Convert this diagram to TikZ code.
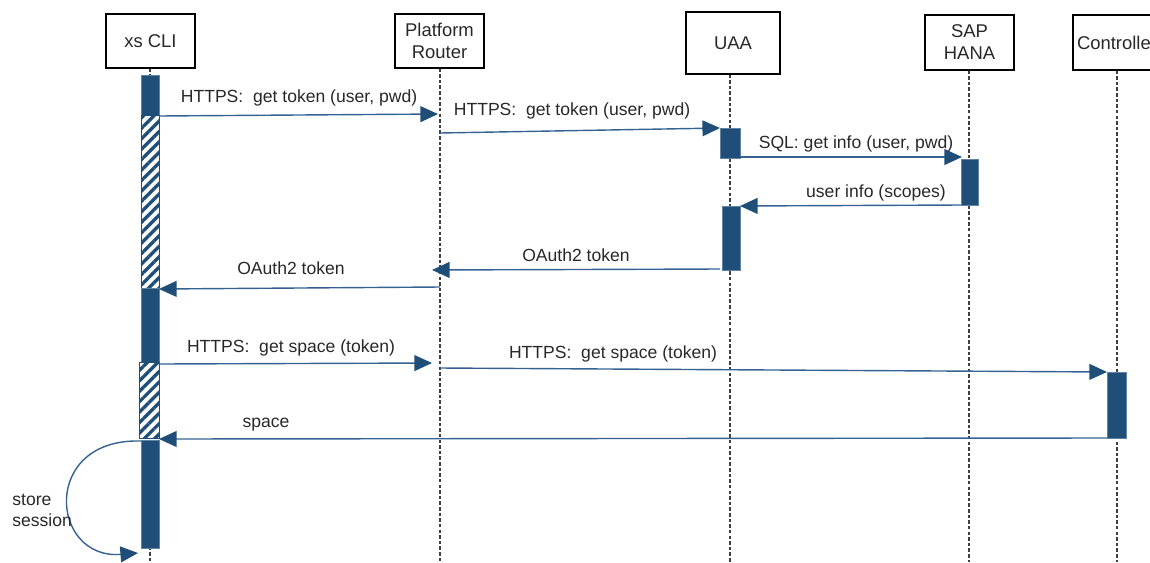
\documentclass[tikz,border=0pt]{standalone}
\usepackage{fontspec}
\setmainfont{Liberation Sans}
\usetikzlibrary{arrows.meta,patterns.meta}
\definecolor{barblue}{RGB}{31,78,121}
\definecolor{lineblue}{RGB}{52,98,146}
\definecolor{txt}{RGB}{40,40,40}
\tikzset{
  head/.style={draw=black,line width=0.6pt,fill=white,inner sep=0pt,align=center,font=\fontsize{10.5}{12.5}\selectfont,text=txt},
  lifeline/.style={draw=black!75,line width=0.6pt,dash pattern=on 2pt off 1.2pt},
  actbar/.style={fill=barblue,draw=barblue!70,line width=0.4pt},
  hatchbar/.style={draw=barblue,line width=0.5pt,fill=white,postaction={pattern={Lines[angle=45,distance=4.2pt,line width=1.9pt]},pattern color=barblue}},
  msg/.style={draw=lineblue,line width=0.8pt,arrows={-{Triangle[length=10pt,width=9pt,color=barblue]}}},
  lbl/.style={font=\fontsize{10}{12}\selectfont,text=txt,inner sep=0pt}
}
\begin{document}
\begin{tikzpicture}[x=0.02cm,y=-0.02cm]
\useasboundingbox (0,0) rectangle (1150,562);
\clip (0,0) rectangle (1150,562);
% heads
\node[head,minimum width=1.78cm,minimum height=1.08cm] (cli) at (150.5,41) {xs CLI};
\node[head,minimum width=1.78cm,minimum height=1.08cm] (router) at (439.5,41) {Platform\\Router};
\node[head,minimum width=1.88cm,minimum height=1.24cm] (uaa) at (733,43) {UAA};
\node[head,minimum width=1.78cm,minimum height=1.1cm] (hana) at (969.5,42.5) {SAP\\HANA};
\node[head,minimum width=1.76cm,minimum height=1.1cm] (ctrl) at (1117,42.5) {Controller};
% lifelines
\coordinate (cliE) at (150,562);
\coordinate (routerE) at (440,562);
\coordinate (uaaE) at (730,562);
\coordinate (hanaE) at (969,562);
\coordinate (ctrlE) at (1117,562);
\draw[lifeline] (cli.south -| cliE) -- (cliE);
\draw[lifeline] (router.south -| routerE) -- (routerE);
\draw[lifeline] (uaa.south -| uaaE) -- (uaaE);
\draw[lifeline] (hana.south -| hanaE) -- (hanaE);
\draw[lifeline] (ctrl.south -| ctrlE) -- (ctrlE);
% activation bars
\path[actbar] (141,75) rectangle (159,115);
\path[hatchbar] (141,115) rectangle (159,288);
\path[actbar] (141,288) rectangle (159,362);
\path[hatchbar] (139,362) rectangle (159,438);
\path[actbar] (141,440) rectangle (159,548);
\path[actbar] (720,128) rectangle (740,158);
\path[actbar] (722,206) rectangle (740,270);
\path[actbar] (961,159) rectangle (978,205);
\path[actbar] (1107,372) rectangle (1126,438);
% message endpoints
\coordinate (m1a) at (159,116); \coordinate (m1b) at (438,114);
\coordinate (m2a) at (440,133); \coordinate (m2b) at (720,128);
\coordinate (m3a) at (740,157); \coordinate (m3b) at (962,157);
\coordinate (m4a) at (961,205); \coordinate (m4b) at (740,206);
\coordinate (m5a) at (720,269); \coordinate (m5b) at (432,270);
\coordinate (m6a) at (440,287); \coordinate (m6b) at (159,289);
\coordinate (m7a) at (159,364); \coordinate (m7b) at (432,363);
\coordinate (m8a) at (440,368); \coordinate (m8b) at (1107,372);
\coordinate (m9a) at (1107,438); \coordinate (m9b) at (159,439);
\coordinate (s1) at (141,441); \coordinate (s2) at (138,553);
\draw[msg] (m1a) -- (m1b);
\draw[msg] (m2a) -- (m2b);
\draw[msg] (m3a) -- (m3b);
\draw[msg] (m4a) -- (m4b);
\draw[msg] (m5a) -- (m5b);
\draw[msg] (m6a) -- (m6b);
\draw[msg] (m7a) -- (m7b);
\draw[msg] (m8a) -- (m8b);
\draw[msg] (m9a) -- (m9b);
\draw[msg] (s1) .. controls (40,438) and (50,560) .. (s2);
% labels
\node[lbl] (l1) at (299,98) {HTTPS:\ \ get token (user,\ pwd)};
\node[lbl] (l2) at (572,111) {HTTPS:\ \ get token (user,\ pwd)};
\node[lbl] (l3) at (856,144) {SQL: get info (user,\ pwd)};
\node[lbl] (l4) at (876,193) {user info (scopes)};
\node[lbl] (l5) at (576,255) {OAuth2 token};
\node[lbl] (l6) at (291,268) {OAuth2 token};
\node[lbl] (l7) at (291,348) {HTTPS:\ \ get space (token)};
\node[lbl] (l8) at (613,354) {HTTPS:\ \ get space (token)};
\node[lbl] (l9) at (266,425) {space};
\node[lbl,align=left,anchor=west] (l10) at (12,510) {store\\session};
\end{tikzpicture}
\end{document}
